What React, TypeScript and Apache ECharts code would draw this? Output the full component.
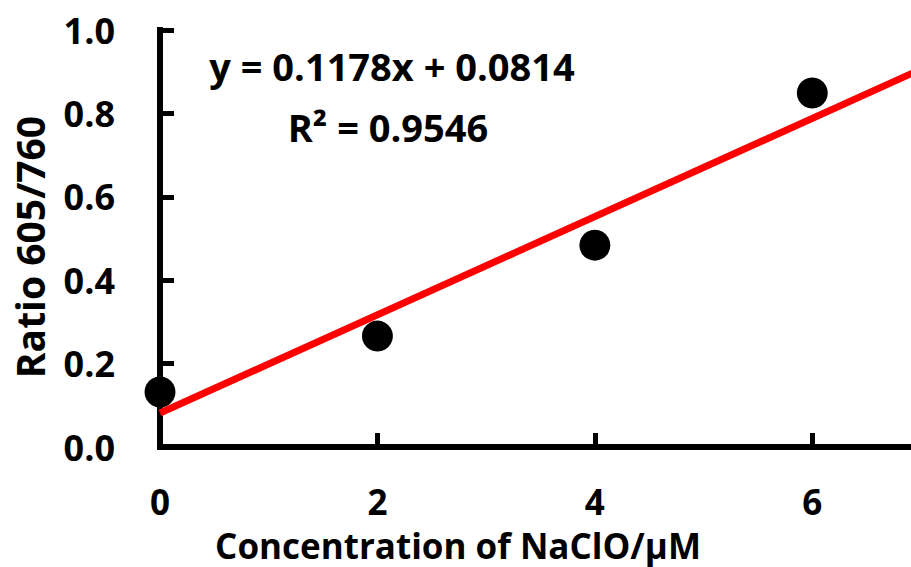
import React, { useEffect, useRef } from "react";
import * as echarts from "echarts";

const concentrations = [0, 2, 4, 6];
const ratios = [0.132, 0.266, 0.484, 0.849];
const fitX = [0, 7];
const fitY = [0.0814, 0.906];
const equationText = "y = 0.1178x + 0.0814";
const r2Text = "R\u00B2 = 0.9546";
const xTitle = "Concentration of NaClO/\u03BCM";
const yTitle = "Ratio 605/760";

const FONT = "'Open Sans', 'DejaVu Sans', sans-serif";

export default function App() {
  const ref = useRef<HTMLDivElement>(null);
  useEffect(() => {
    if (!ref.current) return;
    const chart = echarts.init(ref.current, null, { renderer: "svg" });
    chart.setOption({
      animation: false,
      backgroundColor: "#ffffff",
      grid: { left: 160, top: 30, bottom: 120, right: -10, outerBoundsMode: "none", containLabel: false },
      xAxis: {
        type: "value",
        min: 0,
        max: 7,
        interval: 2,
        splitLine: { show: false },
        axisLine: { show: true, onZero: false, lineStyle: { color: "#000", width: 6, cap: "square" } },
        axisTick: { show: true, inside: true, length: 14, lineStyle: { color: "#000", width: 5 } },
        axisLabel: {
          margin: 41,
          color: "#000",
          fontFamily: FONT,
          fontWeight: "bold",
          fontSize: 35,
          lineHeight: 26,
          formatter: (v: number) => (v % 2 === 0 ? String(v) : ""),
        },
      },
      yAxis: {
        type: "value",
        min: 0,
        max: 1,
        interval: 0.2,
        splitLine: { show: false },
        axisLine: { show: true, onZero: false, lineStyle: { color: "#000", width: 6, cap: "square" } },
        axisTick: { show: true, inside: true, length: 14, lineStyle: { color: "#000", width: 5 } },
        axisLabel: {
          margin: 45,
          color: "#000",
          fontFamily: FONT,
          fontWeight: "bold",
          fontSize: 36,
          formatter: (v: number) => v.toFixed(1),
        },
      },
      graphic: [
        {
          type: "text",
          x: 392,
          y: 66,
          style: {
            text: equationText,
            fontFamily: FONT,
            fontWeight: "bold",
            fontSize: 38,
            fill: "#000",
            textAlign: "center",
            textVerticalAlign: "middle",
          },
        },
        {
          type: "text",
          x: 388,
          y: 127,
          style: {
            text: r2Text,
            fontFamily: FONT,
            fontWeight: "bold",
            fontSize: 38,
            fill: "#000",
            textAlign: "center",
            textVerticalAlign: "middle",
          },
        },
        {
          type: "text",
          x: 458,
          y: 545,
          style: {
            text: xTitle,
            fontFamily: FONT,
            fontWeight: "bold",
            fontSize: 35,
            lineHeight: 26,
            fill: "#000",
            textAlign: "center",
            textVerticalAlign: "middle",
          },
        },
        {
          type: "text",
          x: 29,
          y: 247,
          rotation: Math.PI / 2,
          style: {
            text: yTitle,
            fontFamily: FONT,
            fontWeight: "bold",
            fontSize: 39,
            fill: "#000",
            textAlign: "center",
            textVerticalAlign: "middle",
          },
        },
      ],
      series: [
        {
          type: "line",
          data: fitX.map((x, i) => [x, fitY[i]]),
          symbol: "none",
          lineStyle: { color: "#ff0000", width: 7 },
          z: 2,
        },
        {
          type: "scatter",
          data: concentrations.map((x, i) => [x, ratios[i]]),
          symbol: "circle",
          symbolSize: 31,
          itemStyle: { color: "#000", opacity: 1 },
          z: 3,
        },
      ],
    });
    return () => chart.dispose();
  }, []);
  return (
    <div
      ref={ref}
      style={{ position: "fixed", left: 0, top: 0, width: 911, height: 567, background: "#fff" }}
    />
  );
}
